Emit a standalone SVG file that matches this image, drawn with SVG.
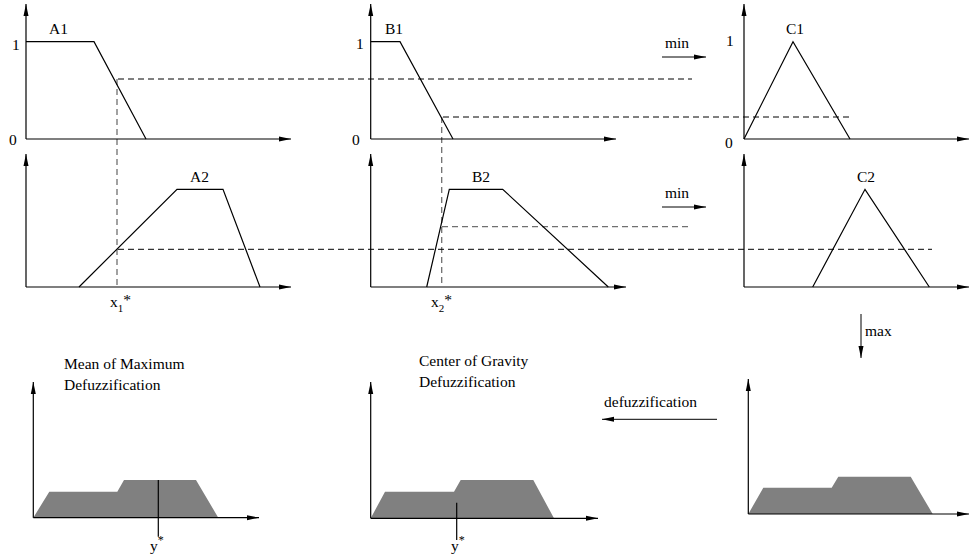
<svg xmlns="http://www.w3.org/2000/svg" width="969" height="559" viewBox="0 0 969 559">
<defs>
<marker id="ah" markerUnits="userSpaceOnUse" markerWidth="13" markerHeight="6" refX="12" refY="3" orient="auto">
<path d="M0,0.5 L12,3 L0,5.5 z" fill="#000"/>
</marker>
</defs>
<style>
.ax{stroke:#000;stroke-width:1.2;fill:none;marker-end:url(#ah)}
.mf{stroke:#000;stroke-width:1.2;fill:none}
.dk{stroke:#000;stroke-width:1;stroke-dasharray:6,4;fill:none}
.dg{stroke:#707070;stroke-width:1.3;stroke-dasharray:6,4;fill:none}
.sh{fill:#808080;stroke:none}
.ar{stroke:#000;stroke-width:1;fill:none;marker-end:url(#ah)}
text{font-family:"Liberation Serif","Times New Roman",serif;font-size:15.5px;fill:#000}
</style>
<rect width="969" height="559" fill="#fff"/>
<g id="connectors">
<line class="dk" x1="118" y1="79" x2="692" y2="79"/>
<line class="dg" x1="117" y1="79" x2="117" y2="287"/>
<line class="dk" x1="443" y1="117" x2="852" y2="117"/>
<line class="dg" x1="441.7" y1="117" x2="441.7" y2="287"/>
<line class="dk" x1="118" y1="249.3" x2="932" y2="249.3"/>
<line class="dg" x1="442" y1="226.7" x2="688" y2="226.7"/>
<line class="ar" x1="662" y1="57" x2="706" y2="57"/>
<text x="665" y="48">min</text>
<line class="ar" x1="662" y1="207" x2="706" y2="207"/>
<text x="665" y="198">min</text>
<line class="ar" x1="861" y1="314" x2="861" y2="358"/>
<text x="865" y="336">max</text>
<line class="ar" x1="717" y1="419.3" x2="602" y2="419.3"/>
<text x="604" y="407">defuzzification</text>
</g>
<g id="A1">
<line class="ax" x1="26" y1="139" x2="26" y2="4"/>
<line class="ax" x1="26" y1="139" x2="291" y2="139"/>
<polyline class="mf" points="26,41.7 94,41.7 146,139"/>
<text x="12" y="50">1</text>
<text x="9" y="145">0</text>
<text x="49" y="34">A1</text>
</g>
<g id="B1">
<line class="ax" x1="370.7" y1="139" x2="370.7" y2="4"/>
<line class="ax" x1="370.7" y1="139" x2="616" y2="139"/>
<polyline class="mf" points="370.7,41.7 400,41.7 453,139"/>
<text x="356" y="49">1</text>
<text x="352" y="145">0</text>
<text x="385" y="34">B1</text>
</g>
<g id="C1">
<line class="ax" x1="744" y1="139" x2="744" y2="4"/>
<line class="ax" x1="744" y1="139" x2="969" y2="139"/>
<polyline class="mf" points="744,139 793,41.7 850,139"/>
<text x="726" y="46">1</text>
<text x="725" y="148">0</text>
<text x="786" y="34">C1</text>
</g>
<g id="A2">
<line class="ax" x1="26" y1="287" x2="26" y2="154"/>
<line class="ax" x1="26" y1="287" x2="291" y2="287"/>
<polyline class="mf" points="79,287 177,189.3 223,189.3 260,287"/>
<text x="190" y="182">A2</text>
<text x="110" y="307">x<tspan font-size="11" dy="5">1</tspan><tspan dy="-7">*</tspan></text>
</g>
<g id="B2">
<line class="ax" x1="370.7" y1="287" x2="370.7" y2="154"/>
<line class="ax" x1="370.7" y1="287" x2="626" y2="287"/>
<polyline class="mf" points="426.7,287 449.3,189.3 502.7,189.3 608.3,287"/>
<text x="472" y="182">B2</text>
<text x="431" y="307">x<tspan font-size="11" dy="5">2</tspan><tspan dy="-7">*</tspan></text>
</g>
<g id="C2">
<line class="ax" x1="744" y1="287" x2="744" y2="154"/>
<line class="ax" x1="744" y1="287" x2="969" y2="287"/>
<polyline class="mf" points="812.7,287 865,189.3 929.3,287"/>
<text x="857" y="182">C2</text>
</g>
<g id="MeanOfMaximum">
<polygon class="sh" points="33.3,517.7 49.3,491.7 117.3,491.7 124,480 196,480 218.3,517.7"/>
<line class="ax" x1="33.3" y1="517.7" x2="33.3" y2="382"/>
<line class="ax" x1="33.3" y1="517.7" x2="259" y2="517.7"/>
<line class="mf" x1="158.3" y1="480" x2="158.3" y2="536.7"/>
<text x="64" y="369">Mean of Maximum</text>
<text x="64" y="390">Defuzzification</text>
<text x="150" y="551">y<tspan font-size="12" dy="-7">*</tspan></text>
</g>
<g id="CenterOfGravity">
<polygon class="sh" points="370.7,518.3 385,491.7 454,491.7 460.7,480 533.3,480 554,518.3"/>
<line class="ax" x1="370.7" y1="518.3" x2="370.7" y2="382"/>
<line class="ax" x1="370.7" y1="518.3" x2="598" y2="518.3"/>
<line class="mf" x1="456.7" y1="502.7" x2="456.7" y2="540"/>
<text x="419" y="366">Center of Gravity</text>
<text x="419" y="387">Defuzzification</text>
<text x="451" y="551">y<tspan font-size="12" dy="-7">*</tspan></text>
</g>
<g id="MaxResult">
<polygon class="sh" points="748.3,514 763.3,487.7 831.7,487.7 838.3,476.7 910.7,476.7 932.7,514"/>
<line class="ax" x1="748.3" y1="514" x2="748.3" y2="379"/>
<line class="ax" x1="748.3" y1="514" x2="969" y2="514"/>
</g>
</svg>
